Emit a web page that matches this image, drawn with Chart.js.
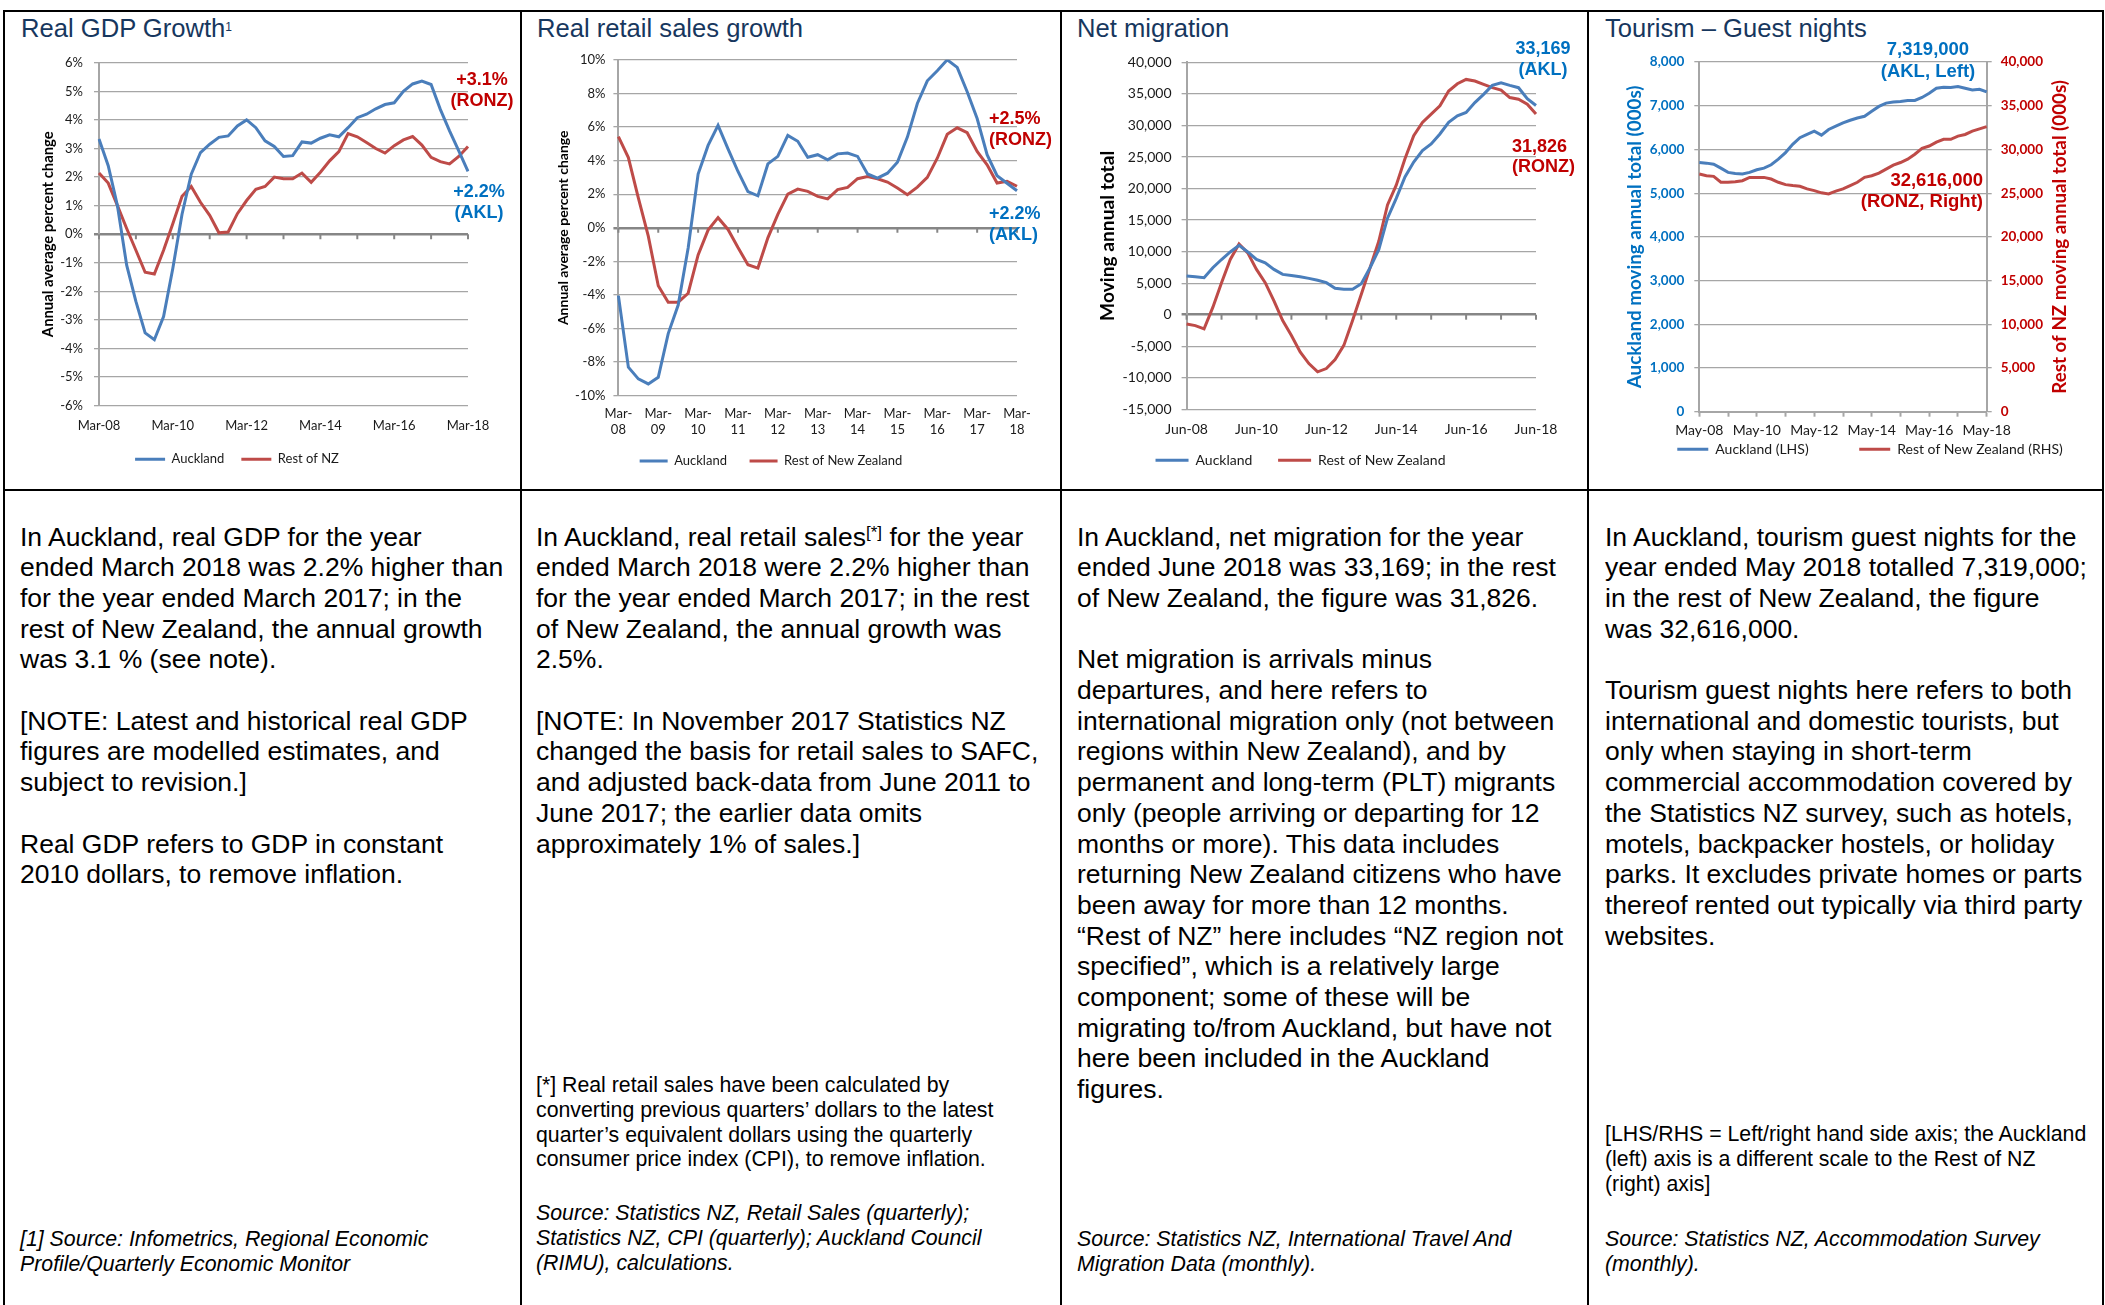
<!DOCTYPE html>
<html>
<head>
<meta charset="utf-8">
<script src="https://cdn.jsdelivr.net/npm/chart.js@4.4.1/dist/chart.umd.min.js"></script>
<style>
  body { margin: 0; width: 2105px; height: 1305px; background: #fff; position: relative; overflow: hidden;
         font-family: "Liberation Sans", Arial, sans-serif; color: #000; }
  .rule { position: absolute; background: #000; }
  .box { position: absolute; }
  .title { position: absolute; font-size: 25.6px; line-height: 30px; color: #17375E; white-space: nowrap; }
  .title sup { font-size: 12px; vertical-align: top; position: relative; top: -1px; }
  .body { position: absolute; font-size: 26.5px; line-height: 30.7px; white-space: nowrap; }
  .body sup { font-size: 17px; vertical-align: top; position: relative; top: -4px; }
  .small { position: absolute; font-size: 21.3px; line-height: 24.8px; white-space: nowrap; }
  .ann { position: absolute; font-weight: bold; font-size: 18px; line-height: 21px; white-space: nowrap; }
  .blue { color: #0070C0; }
  .red { color: #C00000; }
</style>
</head>
<body>

<!-- frame -->
<div class="rule" style="left:3px;top:10px;width:2101px;height:2px"></div>
<div class="rule" style="left:3px;top:489px;width:2101px;height:2px"></div>
<div class="rule" style="left:3px;top:10px;width:2px;height:1295px"></div>
<div class="rule" style="left:520px;top:10px;width:2px;height:1295px"></div>
<div class="rule" style="left:1060px;top:10px;width:2px;height:1295px"></div>
<div class="rule" style="left:1587px;top:10px;width:2px;height:1295px"></div>
<div class="rule" style="left:2102px;top:10px;width:2px;height:1295px"></div>

<!-- titles -->
<div class="title" style="left:21px;top:13px">Real GDP Growth<sup>1</sup></div>
<div class="title" style="left:537px;top:13px">Real retail sales growth</div>
<div class="title" style="left:1077px;top:13px">Net migration</div>
<div class="title" style="left:1605px;top:13px">Tourism – Guest nights</div>

<!-- charts -->
<div class="box" style="left:6px;top:44px;width:514px;height:444px"><canvas id="gdpChart"></canvas></div>
<div class="box" style="left:525px;top:44px;width:534px;height:444px"><canvas id="retailChart"></canvas></div>
<div class="box" style="left:1065px;top:44px;width:521px;height:444px"><canvas id="migChart"></canvas></div>
<div class="box" style="left:1592px;top:44px;width:556px;height:444px"><canvas id="tourChart"></canvas></div>

<!-- end-of-line labels -->
<div class="ann red" style="left:482px;top:68.5px;transform:translateX(-50%);text-align:center">+3.1%<br>(RONZ)</div>
<div class="ann blue" style="left:479px;top:181px;transform:translateX(-50%);text-align:center">+2.2%<br>(AKL)</div>
<div class="ann red" style="left:989px;top:107.5px;line-height:21.7px">+2.5%<br>(RONZ)</div>
<div class="ann blue" style="left:989px;top:202.5px;line-height:21.7px">+2.2%<br>(AKL)</div>
<div class="ann blue" style="left:1543px;top:37.8px;transform:translateX(-50%);text-align:center">33,169<br>(AKL)</div>
<div class="ann red" style="left:1512px;top:135.7px;line-height:20px">31,826<br>(RONZ)</div>
<div class="ann blue" style="left:1928px;top:38px;font-size:18.5px;line-height:21.7px;transform:translateX(-50%);text-align:center">7,319,000<br>(AKL, Left)</div>
<div class="ann red" style="right:122px;top:168.5px;font-size:18.5px;text-align:right">32,616,000<br>(RONZ, Right)</div>

<!-- text panels -->
<div class="body" style="left:20px;top:521.5px">In Auckland, real GDP for the year<br>ended March 2018 was 2.2% higher than<br>for the year ended March 2017; in the<br>rest of New Zealand, the annual growth<br>was 3.1 % (see note).<br><br>[NOTE: Latest and historical real GDP<br>figures are modelled estimates, and<br>subject to revision.]<br><br>Real GDP refers to GDP in constant<br>2010 dollars, to remove inflation.</div>
<div class="small" style="left:20px;top:1227px;font-style:italic">[1] Source: Infometrics, Regional Economic<br>Profile/Quarterly Economic Monitor</div>

<div class="body" style="left:536px;top:521.5px">In Auckland, real retail sales<sup>[*]</sup> for the year<br>ended March 2018 were 2.2% higher than<br>for the year ended March 2017; in the rest<br>of New Zealand, the annual growth was<br>2.5%.<br><br>[NOTE: In November 2017 Statistics NZ<br>changed the basis for retail sales to SAFC,<br>and adjusted back-data from June 2011 to<br>June 2017; the earlier data omits<br>approximately 1% of sales.]</div>
<div class="small" style="left:536px;top:1073px">[*] Real retail sales have been calculated by<br>converting previous quarters’ dollars to the latest<br>quarter’s equivalent dollars using the quarterly<br>consumer price index (CPI), to remove inflation.</div>
<div class="small" style="left:536px;top:1201px;font-style:italic">Source: Statistics NZ, Retail Sales (quarterly);<br>Statistics NZ, CPI (quarterly); Auckland Council<br>(RIMU), calculations.</div>

<div class="body" style="left:1077px;top:521.5px">In Auckland, net migration for the year<br>ended June 2018 was 33,169; in the rest<br>of New Zealand, the figure was 31,826.<br><br>Net migration is arrivals minus<br>departures, and here refers to<br>international migration only (not between<br>regions within New Zealand), and by<br>permanent and long-term (PLT) migrants<br>only (people arriving or departing for 12<br>months or more). This data includes<br>returning New Zealand citizens who have<br>been away for more than 12 months.<br>“Rest of NZ” here includes “NZ region not<br>specified”, which is a relatively large<br>component; some of these will be<br>migrating to/from Auckland, but have not<br>here been included in the Auckland<br>figures.</div>
<div class="small" style="left:1077px;top:1227px;font-style:italic">Source: Statistics NZ, International Travel And<br>Migration Data (monthly).</div>

<div class="body" style="left:1605px;top:521.5px">In Auckland, tourism guest nights for the<br>year ended May 2018 totalled 7,319,000;<br>in the rest of New Zealand, the figure<br>was 32,616,000.<br><br>Tourism guest nights here refers to both<br>international and domestic tourists, but<br>only when staying in short-term<br>commercial accommodation covered by<br>the Statistics NZ survey, such as hotels,<br>motels, backpacker hostels, or holiday<br>parks. It excludes private homes or parts<br>thereof rented out typically via third party<br>websites.</div>
<div class="small" style="left:1605px;top:1122px">[LHS/RHS = Left/right hand side axis; the Auckland<br>(left) axis is a different scale to the Rest of NZ<br>(right) axis]</div>
<div class="small" style="left:1605px;top:1227px;font-style:italic">Source: Statistics NZ, Accommodation Survey<br>(monthly).</div>

<script>
// chart data (quarterly points)

const gdpQuarters = "Mar-08 Jun-08 Sep-08 Dec-08 Mar-09 Jun-09 Sep-09 Dec-09 Mar-10 Jun-10 Sep-10 Dec-10 Mar-11 Jun-11 Sep-11 Dec-11 Mar-12 Jun-12 Sep-12 Dec-12 Mar-13 Jun-13 Sep-13 Dec-13 Mar-14 Jun-14 Sep-14 Dec-14 Mar-15 Jun-15 Sep-15 Dec-15 Mar-16 Jun-16 Sep-16 Dec-16 Mar-17 Jun-17 Sep-17 Dec-17 Mar-18".split(" ");
const gdpAkl = [3.33, 2.4, 1.0, -1.08, -2.35, -3.45, -3.69, -2.88, -1.2, 0.7, 2.1, 2.86, 3.15, 3.39, 3.44, 3.79, 4.0, 3.73, 3.27, 3.07, 2.72, 2.75, 3.23, 3.19, 3.36, 3.48, 3.41, 3.73, 4.08, 4.2, 4.39, 4.54, 4.6, 5.0, 5.26, 5.36, 5.24, 4.37, 3.62, 2.92, 2.2];
const gdpRonz = [2.14, 1.79, 1.0, 0.2, -0.56, -1.33, -1.39, -0.56, 0.37, 1.33, 1.67, 1.12, 0.66, 0.05, 0.08, 0.72, 1.18, 1.57, 1.67, 2.0, 1.94, 1.94, 2.14, 1.82, 2.17, 2.57, 2.89, 3.52, 3.41, 3.21, 3.0, 2.84, 3.1, 3.3, 3.42, 3.12, 2.69, 2.54, 2.46, 2.72, 3.07];

const retailQuarters = gdpQuarters;
const retailAkl = [-4.04, -8.3, -9.0, -9.3, -8.9, -6.3, -4.6, -1.2, 3.2, 4.9, 6.1, 4.7, 3.35, 2.15, 1.9, 3.8, 4.25, 5.5, 5.15, 4.2, 4.35, 4.05, 4.4, 4.45, 4.25, 3.2, 2.95, 3.25, 3.9, 5.4, 7.4, 8.75, 9.35, 10.0, 9.55, 8.1, 6.5, 4.35, 3.1, 2.65, 2.2];
const retailRonz = [5.42, 4.18, 1.78, -0.5, -3.45, -4.43, -4.43, -3.9, -1.62, -0.14, 0.6, -0.1, -1.18, -2.2, -2.4, -0.6, 0.8, 2.0, 2.3, 2.17, 1.87, 1.72, 2.27, 2.4, 2.92, 3.05, 2.92, 2.72, 2.37, 1.97, 2.42, 3.0, 4.14, 5.56, 5.95, 5.66, 4.54, 3.75, 2.66, 2.76, 2.47];

const migQuarters = "Jun-08 Sep-08 Dec-08 Mar-09 Jun-09 Sep-09 Dec-09 Mar-10 Jun-10 Sep-10 Dec-10 Mar-11 Jun-11 Sep-11 Dec-11 Mar-12 Jun-12 Sep-12 Dec-12 Mar-13 Jun-13 Sep-13 Dec-13 Mar-14 Jun-14 Sep-14 Dec-14 Mar-15 Jun-15 Sep-15 Dec-15 Mar-16 Jun-16 Sep-16 Dec-16 Mar-17 Jun-17 Sep-17 Dec-17 Mar-18 Jun-18".split(" ");
const migAkl = [6130, 6020, 5870, 7440, 8750, 9950, 11000, 9950, 8750, 8220, 7180, 6390, 6230, 6020, 5760, 5450, 5080, 4190, 4030, 4030, 4920, 7440, 10320, 15300, 18440, 21840, 24200, 26030, 27080, 28650, 30490, 31530, 32060, 33630, 34940, 36350, 36770, 36350, 35990, 34260, 33169];
const migRonz = [-1470, -1730, -2250, 1150, 5080, 8750, 11210, 9800, 7180, 5080, 2200, -940, -3300, -5920, -7750, -9060, -8540, -7120, -4870, -940, 3250, 7440, 11630, 17390, 20530, 24720, 28390, 30490, 31800, 33110, 35460, 36610, 37300, 37040, 36510, 35990, 35620, 34420, 34150, 33370, 31826];

const tourQuarters = "May-08 Aug-08 Nov-08 Feb-09 May-09 Aug-09 Nov-09 Feb-10 May-10 Aug-10 Nov-10 Feb-11 May-11 Aug-11 Nov-11 Feb-12 May-12 Aug-12 Nov-12 Feb-13 May-13 Aug-13 Nov-13 Feb-14 May-14 Aug-14 Nov-14 Feb-15 May-15 Aug-15 Nov-15 Feb-16 May-16 Aug-16 Nov-16 Feb-17 May-17 Aug-17 Nov-17 Feb-18 May-18".split(" ");
const tourAkl = [5703, 5688, 5665, 5574, 5476, 5453, 5438, 5476, 5536, 5574, 5650, 5778, 5929, 6118, 6269, 6344, 6420, 6329, 6458, 6533, 6609, 6669, 6722, 6760, 6873, 6986, 7062, 7085, 7100, 7122, 7122, 7190, 7289, 7402, 7425, 7417, 7440, 7402, 7364, 7379, 7319];
const tourRonz = [27190, 27000, 26930, 26250, 26250, 26320, 26430, 26810, 26810, 26810, 26620, 26250, 25980, 25870, 25790, 25490, 25300, 25040, 24920, 25230, 25490, 25870, 26250, 26810, 27000, 27300, 27760, 28210, 28510, 28890, 29460, 30140, 30400, 30850, 31160, 31160, 31530, 31720, 32100, 32360, 32616];

Chart.defaults.font.family = "Lato, 'Liberation Sans', sans-serif";
Chart.defaults.color = "#1a1a1a";
Chart.defaults.animation = false;

const BLUE = "#4A7EBB";
const RED = "#BE4B48";
const GRID = "#A6A6A6";
const ZERO = "#868686";

lineSet = (label, data, color, axis) => ({
  label: label,
  data: data,
  borderColor: color,
  backgroundColor: color,
  borderWidth: 3,
  pointRadius: 0,
  tension: 0,
  yAxisID: axis || "y",
});

// legend with line markers; trailing spaces widen the gap between entries
legendOpts = (size, pad, lineLen, spaces) => ({
  position: "bottom",
  labels: {
    usePointStyle: true,
    pointStyle: "line",
    pointStyleWidth: lineLen,
    padding: pad,
    color: "#1a1a1a",
    font: { size: size },
    generateLabels: (chart) => {
      const items = Chart.defaults.plugins.legend.labels.generateLabels(chart);
      items.forEach((it, i) => {
        if (i < items.length - 1) it.text += " ".repeat(spaces || 0);
      });
      return items;
    },
  },
});

// show only every nth category label
everyNth = (n) =>
  function (val, i) {
    return i % n === 0 ? this.getLabelForValue(val) : "";
  };

// little tick marks hanging off the zero line (one per year)
const zeroTicks = {
  id: "zeroTicks",
  beforeDatasetsDraw(chart, args, opts) {
    const xs = chart.scales.x;
    const y0 = chart.scales.y.getPixelForValue(0);
    const ctx = chart.ctx;
    ctx.save();
    ctx.strokeStyle = ZERO;
    ctx.lineWidth = 2;
    for (let i = 0; i < xs.ticks.length; i += opts.every) {
      const px = xs.getPixelForTick(i);
      ctx.beginPath();
      ctx.moveTo(px, y0);
      ctx.lineTo(px, y0 + 5);
      ctx.stroke();
    }
    ctx.restore();
  },
};

// right-hand axis title that reads bottom-to-top, like the left one
const rightTitle = {
  id: "rightTitle",
  afterDraw(chart, args, opts) {
    const s = chart.scales.y2;
    const ctx = chart.ctx;
    ctx.save();
    ctx.translate(s.right - opts.offset, (s.top + s.bottom) / 2);
    ctx.rotate(-Math.PI / 2);
    ctx.font = "bold " + opts.size + "px Lato";
    ctx.fillStyle = opts.color;
    ctx.textAlign = "center";
    ctx.textBaseline = "middle";
    ctx.fillText(opts.text, 0, 0);
    ctx.restore();
  },
};

gridOpts = () => ({
  color: (c) => (c.tick && c.tick.value === 0 ? ZERO : GRID),
  lineWidth: (c) => (c.tick && c.tick.value === 0 ? 2.5 : 1.3),
  tickLength: 5,
});

// Real GDP growth
gdpChart = () => {
  var ctx = document.getElementById("gdpChart");
  new Chart(ctx, {
    type: "line",
    data: {
      labels: gdpQuarters,
      datasets: [lineSet("Auckland", gdpAkl, BLUE), lineSet("Rest of NZ", gdpRonz, RED)],
    },
    options: {
      responsive: true,
      maintainAspectRatio: false,
      layout: { padding: { top: 17, right: 52, left: 0, bottom: 12.2 } },
      plugins: { legend: legendOpts(13, 17, 30, 0), tooltip: { enabled: false }, zeroTicks: { every: 4 } },
      scales: {
        x: {
          grid: { display: false, drawTicks: false },
          border: { display: false },
          ticks: { autoSkip: false, maxRotation: 0, padding: 12.5, font: { size: 13 }, callback: everyNth(8) },
          afterFit: (s) => { s.height = 30.1; },
        },
        y: {
          min: -6, max: 6,
          ticks: { stepSize: 1, padding: 11, font: { size: 13 }, callback: (v) => v + "%" },
          grid: gridOpts(),
          border: { color: GRID, width: 2 },
          title: { display: true, text: "Annual average percent change", color: "#000", font: { size: 14.8, weight: "bold" }, padding: { top: 33.6, bottom: 0 } },
          afterFit: (s) => { s.width = 93; },
        },
      },
    },
    plugins: [zeroTicks],
  });
};

// Real retail sales growth
retailChart = () => {
  var ctx = document.getElementById("retailChart");
  new Chart(ctx, {
    type: "line",
    data: {
      labels: retailQuarters,
      datasets: [lineSet("Auckland", retailAkl, BLUE), lineSet("Rest of New Zealand", retailRonz, RED)],
    },
    options: {
      responsive: true,
      maintainAspectRatio: false,
      layout: { padding: { top: 14, right: 42, left: 0, bottom: 10.5 } },
      plugins: { legend: legendOpts(13, 16, 28, 2), tooltip: { enabled: false }, zeroTicks: { every: 4 } },
      scales: {
        x: {
          grid: { display: false, drawTicks: false },
          border: { display: false },
          ticks: {
            autoSkip: false, maxRotation: 0, padding: 9.3, font: { size: 13, lineHeight: 1.28 },
            callback: function (val, i) {
              if (i % 4 !== 0) return "";
              const lab = this.getLabelForValue(val);
              return [lab.slice(0, 4), lab.slice(4)];
            },
          },
          afterFit: (s) => { s.height = 42.8; },
        },
        y: {
          min: -10, max: 10,
          ticks: { stepSize: 2, padding: 8, font: { size: 13 }, callback: (v) => v + "%" },
          grid: gridOpts(),
          border: { color: GRID, width: 2 },
          title: { display: true, text: "Annual average percent change", color: "#000", font: { size: 14, weight: "bold" }, padding: { top: 30.2, bottom: 0 } },
          afterFit: (s) => { s.width = 93.4; },
        },
      },
    },
    plugins: [zeroTicks],
  });
};

// Net migration
migChart = () => {
  var ctx = document.getElementById("migChart");
  new Chart(ctx, {
    type: "line",
    data: {
      labels: migQuarters,
      datasets: [lineSet("Auckland", migAkl, BLUE), lineSet("Rest of New Zealand", migRonz, RED)],
    },
    options: {
      responsive: true,
      maintainAspectRatio: false,
      layout: { padding: { top: 15, right: 50, left: 0, bottom: 10.7 } },
      plugins: { legend: legendOpts(14, 15, 33, 3), tooltip: { enabled: false }, zeroTicks: { every: 4 } },
      scales: {
        x: {
          grid: { display: false, drawTicks: false },
          border: { display: false },
          ticks: { autoSkip: false, maxRotation: 0, padding: 11.6, font: { size: 14 }, callback: everyNth(8) },
          afterFit: (s) => { s.height = 29; },
        },
        y: {
          min: -15000, max: 40000,
          ticks: { stepSize: 5000, padding: 10, font: { size: 14 }, callback: (v) => v.toLocaleString("en-US") },
          grid: gridOpts(),
          border: { color: GRID, width: 2 },
          title: { display: true, text: "Moving annual total", color: "#000", font: { size: 19.2, weight: "bold" }, padding: { top: 31.3, bottom: 0 } },
          afterFit: (s) => { s.width = 121.6; },
        },
      },
    },
    plugins: [zeroTicks],
  });
};

// Tourism guest nights, two y axes
tourChart = () => {
  var ctx = document.getElementById("tourChart");
  new Chart(ctx, {
    type: "line",
    data: {
      labels: tourQuarters,
      datasets: [lineSet("Auckland (LHS)", tourAkl, BLUE, "y"), lineSet("Rest of New Zealand (RHS)", tourRonz, RED, "y2")],
    },
    options: {
      responsive: true,
      maintainAspectRatio: false,
      layout: { padding: { top: 14.7, right: 0, left: 0, bottom: 21.7 } },
      plugins: {
        legend: legendOpts(14, 4, 31, 13),
        tooltip: { enabled: false },
        rightTitle: { text: "Rest of NZ moving annual total (000s)", color: "#C00000", size: 18.8, offset: 88 },
      },
      scales: {
        x: {
          grid: {
            display: true, drawOnChartArea: false, tickLength: 5, tickWidth: 2,
            tickColor: (c) => (c.index % 4 === 0 ? GRID : "rgba(0,0,0,0)"),
          },
          border: { display: true, color: GRID, width: 2 },
          ticks: { autoSkip: false, maxRotation: 0, padding: 7, font: { size: 14, lineHeight: 1 }, callback: everyNth(8) },
          afterFit: (s) => { s.height = 26.6; },
        },
        y: {
          position: "left",
          min: 0, max: 8000,
          ticks: { stepSize: 1000, padding: 10, color: "#0070C0", font: { size: 13.5, weight: "bold" }, callback: (v) => v.toLocaleString("en-US") },
          grid: { color: GRID, lineWidth: 1.3, tickLength: 5 },
          border: { color: GRID, width: 2 },
          title: { display: true, text: "Auckland moving annual total (000s)", color: "#0070C0", font: { size: 18.8, weight: "bold" }, padding: { top: 31.7, bottom: 0 } },
          afterFit: (s) => { s.width = 107.3; },
        },
        y2: {
          position: "right",
          min: 0, max: 40000,
          ticks: { stepSize: 5000, padding: 9, color: "#C00000", font: { size: 13.5, weight: "bold" }, callback: (v) => v.toLocaleString("en-US") },
          grid: { drawOnChartArea: false, color: GRID, lineWidth: 1.3, tickLength: 5 },
          border: { color: GRID, width: 2 },
          afterFit: (s) => { s.width = 161.3; },
        },
      },
    },
    plugins: [rightTitle],
  });
};

gdpChart();
retailChart();
migChart();
tourChart();
</script>
</body>
</html>
